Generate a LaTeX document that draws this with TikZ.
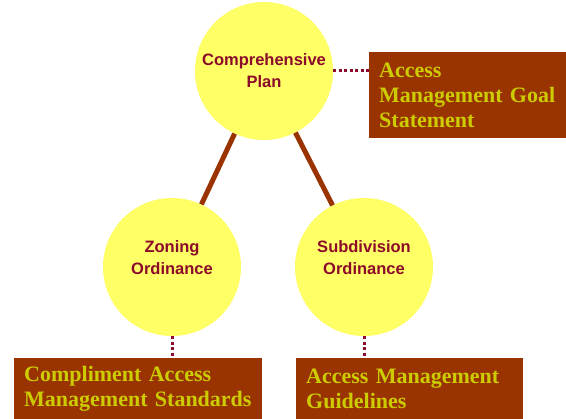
\documentclass[tikz,border=0pt]{standalone}
\usepackage{fontspec}
\setmainfont{Liberation Serif}
\setsansfont{Liberation Sans}
\usetikzlibrary{positioning}
\definecolor{disc}{HTML}{FFFF66}
\definecolor{rust}{HTML}{993300}
\definecolor{wine}{HTML}{8C0A2A}
\definecolor{olive}{HTML}{CCCC00}

\begin{document}
\begin{tikzpicture}[x=1pt, y=-1pt,
  topic/.style={circle, fill=disc, minimum size=138pt, inner sep=0pt, align=center,
    text=wine, font=\sffamily\bfseries\fontsize{16.5}{22}\selectfont},
  tool/.style={fill=rust, text=olive, align=left, inner xsep=10pt, inner ysep=4pt,
    anchor=north west, font=\rmfamily\bfseries\fontsize{22}{25}\selectfont},
  link/.style={rust, line width=5pt},
  tie/.style={wine, line width=3pt, dash pattern=on 3pt off 2.5pt}]
  \useasboundingbox (0,0) rectangle (566,419);
  % circles
  \node[topic] (plan) at (264,71) {Comprehensive\\Plan};
  \node[topic, text depth=18pt] (zoning) at (172,267) {Zoning\\Ordinance};
  \node[topic, text depth=18pt] (subdiv) at (364,267) {Subdivision\\Ordinance};
  % boxes
  \node[tool, text width=177pt, minimum width=197pt, minimum height=86pt] (goal) at (369,52)
    {Access\\Management Goal\\Statement};
  \node[tool, text width=228pt, minimum width=248pt, minimum height=61pt] (standards) at (14,358)
    {Compliment Access\\Management Standards};
  \node[tool, text width=207pt, minimum width=227pt, minimum height=61pt] (guidelines) at (296,358)
    {Access Management\\Guidelines};
  % plan to ordinances
  \draw[link] (plan) -- (zoning);
  \draw[link] (plan) -- (subdiv);
  % dotted ties
  \draw[tie] (plan.east) -- (plan.east -| goal.west);
  \draw[tie] (zoning.south) -- (zoning.south |- standards.north);
  \draw[tie] (subdiv.south) -- (subdiv.south |- guidelines.north);
\end{tikzpicture}
\end{document}
